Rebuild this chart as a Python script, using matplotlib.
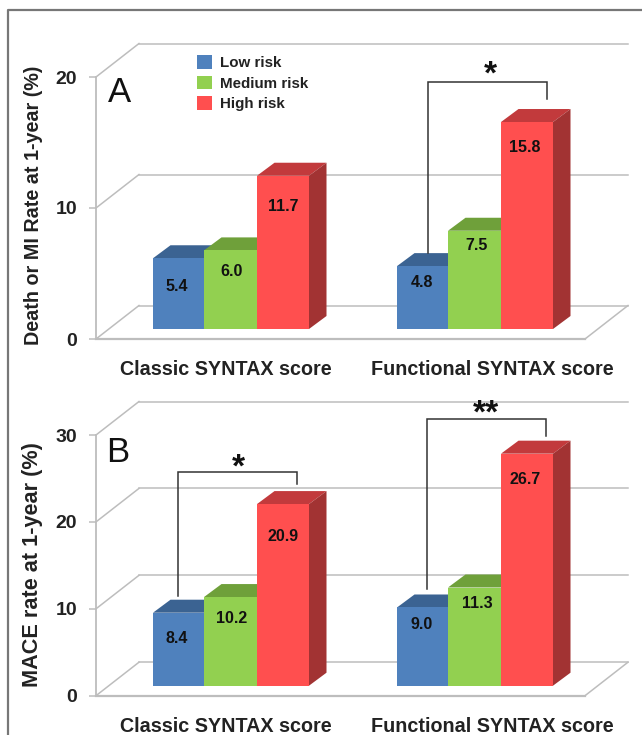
import matplotlib
matplotlib.use("Agg")
import matplotlib.pyplot as plt
from matplotlib.lines import Line2D
from matplotlib.patches import Patch, Polygon

plt.rcParams['font.family'] = ['Liberation Sans', 'DejaVu Sans']

# ---- data ----
groups = ["Classic SYNTAX score", "Functional SYNTAX score"]
risk_levels = ["Low risk", "Medium risk", "High risk"]
death_mi_values = [[5.4, 6.0, 11.7], [4.8, 7.5, 15.8]]
mace_values = [[8.4, 10.2, 20.9], [9.0, 11.3, 26.7]]
death_mi_ticks = [0, 10, 20]
mace_ticks = [0, 10, 20, 30]

# ---- style / layout (pixels of a 642x735 canvas) ----
W, H = 642, 735
front_colors = ["#4F81BD", "#92D050", "#FF4F4F"]
top_colors = ["#3B6392", "#6FA03A", "#C23A3C"]
side_colors = ["#35587F", "#5F8A30", "#A23333"]
GRID = "#BDBDBD"
AX_L, FRONT_R, DEPTH_X = 96, 585, 43
BAR_EDGES = [[153, 204, 257, 309], [397, 448, 501, 553]]
BAR_DX, BAR_DY = 17.5, 13
LABEL_CENTERS = [177, 232, 283], [422, 477, 525]
XLABEL_POS = [226, 492]

panels = [
    dict(letter="A", vals=death_mi_values, ticks=death_mi_ticks,
         ylabel="Death or MI Rate at 1-year (%)", y0=339, sc=13.1, depth=33.5, base=329,
         top=20, ylab_y=205, ylab_size=14.2, letter_xy=(108, 102),
         drops=[[28, 21, 31], [16, 15, 25]],
         brackets=[(428, 253, 82, 547, 99, 490, 84, "*")]),
    dict(letter="B", vals=mace_values, ticks=mace_ticks,
         ylabel="MACE rate at 1-year (%)", y0=695.7, sc=8.69, depth=33.5, base=685.7,
         top=385, ylab_y=565, ylab_size=15.6, letter_xy=(106, 462),
         drops=[[26, 21, 32], [17, 16, 26]],
         brackets=[(178, 596, 472, 297, 484, 238, 477, "*"),
                   (427, 589, 419, 546, 436, 486, 423, "**")]),
]

fig = plt.figure(figsize=(W / 100, H / 100), dpi=100, facecolor="white")

# outer frame
fig.add_artist(Line2D([8 / W, 8 / W, 1], [0, 1 - 10 / H, 1 - 10 / H],
                      transform=fig.transFigure, color="#777777", lw=1.6))

for p in panels:
    y0, sc = p["y0"], p["sc"]
    py = lambda px, y0=y0, sc=sc: (y0 - px) / sc
    ax = fig.add_axes([AX_L / W, 1 - y0 / H, (W - AX_L) / W, (y0 - p["top"]) / H])
    ax.patch.set_alpha(0)
    ax.set_xlim(AX_L, W)
    ax.set_ylim(0, py(p["top"]))
    back = p["depth"] / sc
    bx0, bx1 = AX_L + DEPTH_X, FRONT_R + DEPTH_X

    # walls
    for t in p["ticks"]:
        ax.plot([bx0, bx1], [t + back] * 2, color=GRID, lw=1.1, zorder=1, clip_on=False)
        ax.plot([AX_L, bx0], [t, t + back], color=GRID, lw=1.1, zorder=1, clip_on=False)
    ax.plot([AX_L, FRONT_R], [0, 0], color=GRID, lw=1.6, zorder=1, clip_on=False)
    ax.plot([FRONT_R, bx1], [0, back], color=GRID, lw=1.1, zorder=1, clip_on=False)

    # bars
    base = py(p["base"])
    dy = BAR_DY / sc
    for g, vals in enumerate(p["vals"]):
        edges = BAR_EDGES[g]
        for i, v in enumerate(vals):
            l, r = edges[i], edges[i + 1]
            z = 3 + i
            top = base + v
            ax.bar(l, v, width=r - l, bottom=base, align="edge",
                   color=front_colors[i], linewidth=0, zorder=z + 0.5)
            ax.add_patch(Polygon([(l, top), (r, top), (r + BAR_DX, top + dy), (l + BAR_DX, top + dy)],
                                 closed=True, fc=top_colors[i], ec="none", zorder=z))
            ax.add_patch(Polygon([(r, base), (r + BAR_DX, base + dy), (r + BAR_DX, top + dy), (r, top)],
                                 closed=True, fc=side_colors[i], ec="none", zorder=z))
            ax.text(LABEL_CENTERS[g][i], top - p["drops"][g][i] / sc, f"{v:.1f}",
                    ha="center", va="center", fontsize=11.5, fontweight="bold",
                    color="#111111", zorder=10)

    # significance brackets
    for xl, yl, yt, xr, yr, sx, sy, s in p["brackets"]:
        ax.plot([xl, xl, xr, xr], [py(yl), py(yt), py(yt), py(yr)],
                color="#333333", lw=1.1, zorder=9, clip_on=False, solid_joinstyle="miter")
        ax.text(sx, py(sy), s, ha="center", va="baseline", fontsize=24,
                fontweight="bold", color="#111111", zorder=10, clip_on=False)

    # axes furniture
    for side in ("top", "right", "bottom"):
        ax.spines[side].set_visible(False)
    ax.spines["left"].set_color(GRID)
    ax.spines["left"].set_linewidth(1.3)
    ax.spines["left"].set_bounds(p["ticks"][0], p["ticks"][-1])
    ax.set_yticks(p["ticks"])
    ax.tick_params(axis="y", length=5, width=1.1, color=GRID, pad=8.5, labelsize=14,
                   labelcolor="#222222")
    for lab in ax.get_yticklabels():
        lab.set_fontweight("bold")
    ax.set_xticks(XLABEL_POS, groups)
    ax.tick_params(axis="x", length=0, pad=15, labelsize=14.2, labelcolor="#222222")
    for lab in ax.get_xticklabels():
        lab.set_fontweight("bold")
    ax.set_ylabel(p["ylabel"], fontsize=p["ylab_size"], fontweight="bold", color="#222222")
    ax.yaxis.set_label_coords(43, py(p["ylab_y"]), transform=ax.transData)

    lx, ly = p["letter_xy"]
    ax.text(lx, py(ly), p["letter"], fontsize=25, ha="left", va="baseline",
            color="#111111", zorder=10, clip_on=False)

    if p["letter"] == "A":
        handles = [Patch(facecolor=c, edgecolor="none") for c in front_colors]
        ax.legend(handles, risk_levels, loc="upper left", frameon=False,
                  bbox_to_anchor=(197, py(55)), bbox_transform=ax.transData,
                  borderpad=0, borderaxespad=0, handlelength=1.0, handleheight=1.0,
                  handletextpad=0.55, labelspacing=0.38,
                  prop={"family": "Liberation Sans", "weight": "bold", "size": 10.9},
                  labelcolor="#222222")

fig.savefig("out.png", dpi=100)
